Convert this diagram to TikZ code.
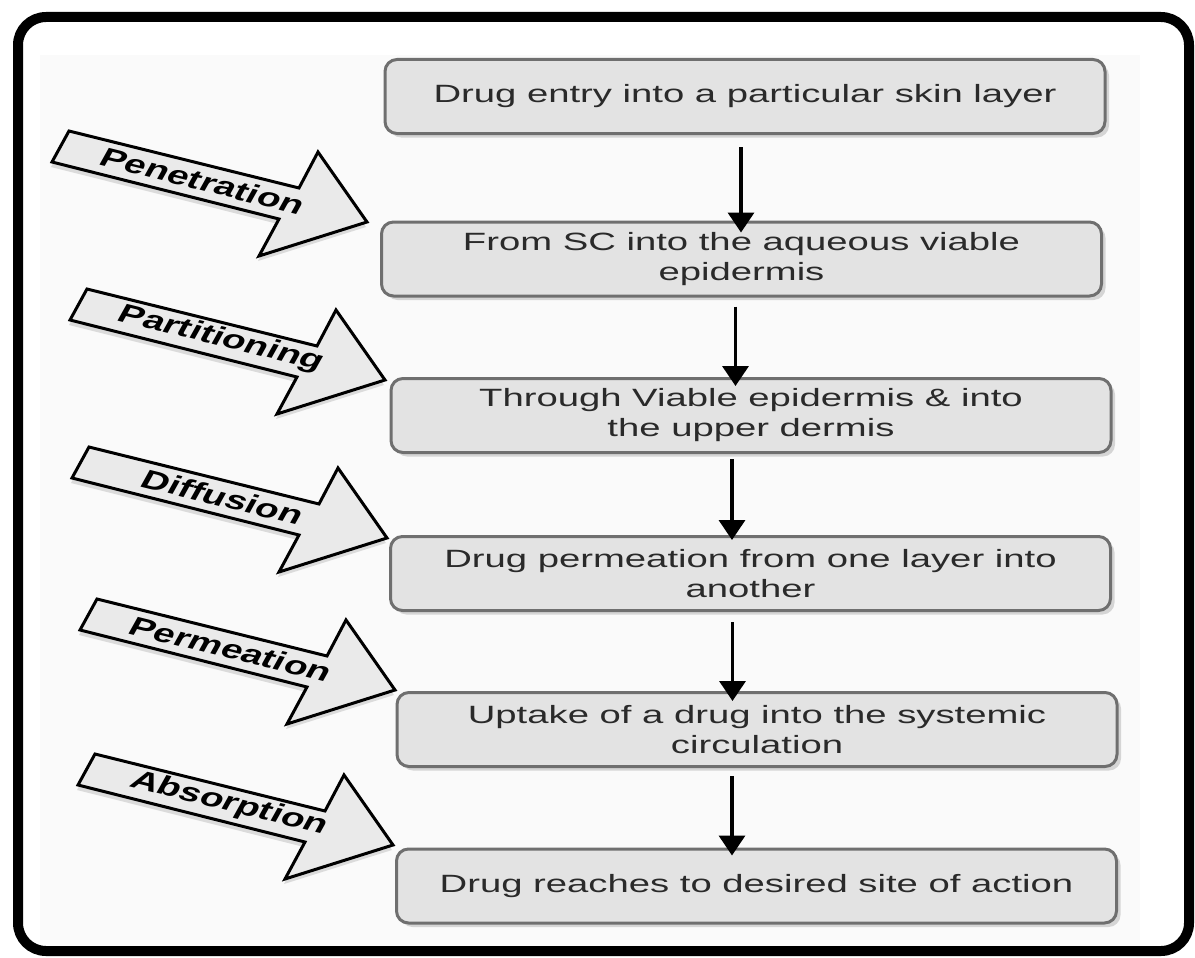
\documentclass[tikz,border=0pt]{standalone}
\usepackage{fontspec}
\newfontfamily\boxfont{Liberation Sans}[FakeStretch=1.53]
\newfontfamily\tagfont{Liberation Sans}
\usetikzlibrary{arrows.meta,shadows}

\definecolor{boxfill}{HTML}{E3E3E3}
\definecolor{boxedge}{HTML}{6F6F6F}
\definecolor{boxtext}{HTML}{2A2A2A}
\definecolor{tagfill}{HTML}{EAEAEA}
\definecolor{panel}{HTML}{FAFAFA}

\tikzset{
  stagebox/.style={draw=boxedge, line width=3pt, fill=boxfill, rounded corners=12pt,
    minimum width=720pt, minimum height=74pt, align=center, text=boxtext,
    font=\boxfont\fontsize{25}{30}\selectfont,
    drop shadow={shadow xshift=4pt, shadow yshift=-4pt, opacity=0.3}},
  flow/.style={line width=3.5pt, -{Triangle[width=26pt,length=20pt]}},
  tagarrow/.style={draw=black, line width=3pt, fill=tagfill, line join=miter,
    drop shadow={shadow xshift=-1pt, shadow yshift=-5pt, opacity=0.25}},
  tag/.style={font=\tagfont\bfseries\fontsize{26}{30}\selectfont, xscale=1.5, rotate=-20.4}
}

\begin{document}
\begin{tikzpicture}[x=1pt,y=-1pt]

\useasboundingbox (0,0) rectangle (1195,958);

% Background panel and outer frame
\fill[panel] (40,55) rectangle (1140,940);
\draw[line width=10pt, rounded corners=28pt] (18,17) rectangle (1189,951);

% Stages of the drug path
\node[stagebox] (b1) at (745,96.5) {Drug entry into a particular skin layer};
\node[stagebox] (b2) at (741.5,259) {From SC into the aqueous viable\\epidermis};
\node[stagebox] (b3) at (751,415.5) {Through Viable epidermis \& into\\the upper dermis};
\node[stagebox] (b4) at (750.5,573.5) {Drug permeation from one layer into\\another};
\node[stagebox] (b5) at (757,729.5) {Uptake of a drug into the systemic\\circulation};
\node[stagebox] (b6) at (756.5,886) {Drug reaches to desired site of action};

% Arrows between the stages (straight down)
\draw[flow] ([xshift=-4pt,yshift=-12pt]b1.south) -- ([xshift=-4pt,yshift=-12pt]b1.south |- b2.north);
\draw[flow] ([xshift=-6pt,yshift=-9pt]b2.south) -- ([xshift=-6pt,yshift=-9pt]b2.south |- b3.north);
\draw[flow] ([xshift=-19pt,yshift=-5pt]b3.south) -- ([xshift=-19pt,yshift=-5pt]b3.south |- b4.north);
\draw[flow] ([xshift=-18pt,yshift=-10pt]b4.south) -- ([xshift=-18pt,yshift=-10pt]b4.south |- b5.north);
\draw[flow] ([xshift=-25pt,yshift=-8pt]b5.south) -- ([xshift=-25pt,yshift=-8pt]b5.south |- b6.north);

% Tips of the block arrows
\coordinate (tip1) at (367,222);
\coordinate (tip2) at (385,380);
\coordinate (tip3) at (387,538);
\coordinate (tip4) at (395,690);
\coordinate (tip5) at (393,845);

% Block arrows with the process names
\begin{scope}[shift={(tip1)}]
  \draw[tagarrow] (-298,-91) -- (-68,-34) -- (-49,-70) -- (0,0) -- (-108,34) -- (-88,-3) -- (-315,-60) -- cycle;
  \node[tag] (t1) at (-164,-41) {Penetration};
\end{scope}
\begin{scope}[shift={(tip2)}]
  \draw[tagarrow] (-298,-91) -- (-68,-34) -- (-49,-70) -- (0,0) -- (-108,34) -- (-88,-3) -- (-315,-60) -- cycle;
  \node[tag] (t2) at (-164,-41) {Partitioning};
\end{scope}
\begin{scope}[shift={(tip3)}]
  \draw[tagarrow] (-298,-91) -- (-68,-34) -- (-49,-70) -- (0,0) -- (-108,34) -- (-88,-3) -- (-315,-60) -- cycle;
  \node[tag] (t3) at (-164,-41) {Diffusion};
\end{scope}
\begin{scope}[shift={(tip4)}]
  \draw[tagarrow] (-298,-91) -- (-68,-34) -- (-49,-70) -- (0,0) -- (-108,34) -- (-88,-3) -- (-315,-60) -- cycle;
  \node[tag] (t4) at (-164,-41) {Permeation};
\end{scope}
\begin{scope}[shift={(tip5)}]
  \draw[tagarrow] (-298,-91) -- (-68,-34) -- (-49,-70) -- (0,0) -- (-108,34) -- (-88,-3) -- (-315,-60) -- cycle;
  \node[tag] (t5) at (-164,-41) {Absorption};
\end{scope}

\end{tikzpicture}
\end{document}
